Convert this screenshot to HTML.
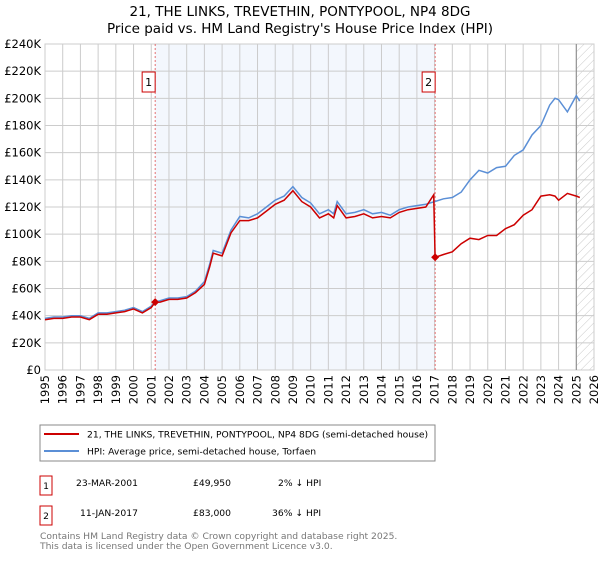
<!DOCTYPE html>
<html><head><meta charset="utf-8"><style>
body{margin:0;background:#fff;font-family:"Liberation Sans","DejaVu Sans",sans-serif;}
svg text{font-family:"DejaVu Sans","Liberation Sans",sans-serif;}
</style></head><body>
<svg id="c" width="600" height="560" xmlns="http://www.w3.org/2000/svg">
<defs><pattern id="hatch" width="6" height="6" patternUnits="userSpaceOnUse" patternTransform="rotate(45)"><line x1="0" y1="0" x2="0" y2="6" stroke="#bbb" stroke-width="0.8"/></pattern></defs>
<text x="300" y="16" text-anchor="middle" font-size="13.5">21, THE LINKS, TREVETHIN, PONTYPOOL, NP4 8DG</text>
<text x="300" y="33" text-anchor="middle" font-size="13.5">Price paid vs. HM Land Registry's House Price Index (HPI)</text>
<g id="plot"></g>
<g id="xlabels" font-size="11.5" text-anchor="end">
<g transform="translate(49,375)"><g transform="rotate(-90)"><text x="0" y="0">1995</text></g></g>
<g transform="translate(66.7,375)"><g transform="rotate(-90)"><text x="0" y="0">1996</text></g></g>
<g transform="translate(84.4,375)"><g transform="rotate(-90)"><text x="0" y="0">1997</text></g></g>
<g transform="translate(102.1,375)"><g transform="rotate(-90)"><text x="0" y="0">1998</text></g></g>
<g transform="translate(119.8,375)"><g transform="rotate(-90)"><text x="0" y="0">1999</text></g></g>
<g transform="translate(137.5,375)"><g transform="rotate(-90)"><text x="0" y="0">2000</text></g></g>
<g transform="translate(155.3,375)"><g transform="rotate(-90)"><text x="0" y="0">2001</text></g></g>
<g transform="translate(173,375)"><g transform="rotate(-90)"><text x="0" y="0">2002</text></g></g>
<g transform="translate(190.7,375)"><g transform="rotate(-90)"><text x="0" y="0">2003</text></g></g>
<g transform="translate(208.4,375)"><g transform="rotate(-90)"><text x="0" y="0">2004</text></g></g>
<g transform="translate(226.1,375)"><g transform="rotate(-90)"><text x="0" y="0">2005</text></g></g>
<g transform="translate(243.8,375)"><g transform="rotate(-90)"><text x="0" y="0">2006</text></g></g>
<g transform="translate(261.5,375)"><g transform="rotate(-90)"><text x="0" y="0">2007</text></g></g>
<g transform="translate(279.3,375)"><g transform="rotate(-90)"><text x="0" y="0">2008</text></g></g>
<g transform="translate(297,375)"><g transform="rotate(-90)"><text x="0" y="0">2009</text></g></g>
<g transform="translate(314.7,375)"><g transform="rotate(-90)"><text x="0" y="0">2010</text></g></g>
<g transform="translate(332.4,375)"><g transform="rotate(-90)"><text x="0" y="0">2011</text></g></g>
<g transform="translate(350.1,375)"><g transform="rotate(-90)"><text x="0" y="0">2012</text></g></g>
<g transform="translate(367.8,375)"><g transform="rotate(-90)"><text x="0" y="0">2013</text></g></g>
<g transform="translate(385.5,375)"><g transform="rotate(-90)"><text x="0" y="0">2014</text></g></g>
<g transform="translate(403.3,375)"><g transform="rotate(-90)"><text x="0" y="0">2015</text></g></g>
<g transform="translate(421,375)"><g transform="rotate(-90)"><text x="0" y="0">2016</text></g></g>
<g transform="translate(438.7,375)"><g transform="rotate(-90)"><text x="0" y="0">2017</text></g></g>
<g transform="translate(456.4,375)"><g transform="rotate(-90)"><text x="0" y="0">2018</text></g></g>
<g transform="translate(474.1,375)"><g transform="rotate(-90)"><text x="0" y="0">2019</text></g></g>
<g transform="translate(491.8,375)"><g transform="rotate(-90)"><text x="0" y="0">2020</text></g></g>
<g transform="translate(509.5,375)"><g transform="rotate(-90)"><text x="0" y="0">2021</text></g></g>
<g transform="translate(527.3,375)"><g transform="rotate(-90)"><text x="0" y="0">2022</text></g></g>
<g transform="translate(545,375)"><g transform="rotate(-90)"><text x="0" y="0">2023</text></g></g>
<g transform="translate(562.7,375)"><g transform="rotate(-90)"><text x="0" y="0">2024</text></g></g>
<g transform="translate(580.4,375)"><g transform="rotate(-90)"><text x="0" y="0">2025</text></g></g>
<g transform="translate(598.1,375)"><g transform="rotate(-90)"><text x="0" y="0">2026</text></g></g>
</g>
<rect x="40" y="425" width="395" height="36" fill="#fff" stroke="#888"/>
<line x1="44" y1="434" x2="79" y2="434" stroke="#cc0000" stroke-width="2"/>
<text x="87" y="437.5" font-size="9.2">21, THE LINKS, TREVETHIN, PONTYPOOL, NP4 8DG (semi-detached house)</text>
<line x1="44" y1="451" x2="79" y2="451" stroke="#5b8fd6" stroke-width="2"/>
<text x="87" y="454.5" font-size="9.2">HPI: Average price, semi-detached house, Torfaen</text>
<g font-size="9.2">
<rect x="40" y="476" width="12" height="19" fill="#fff" stroke="#cc0000"/><text x="46" y="489" text-anchor="middle">1</text>
<text x="76" y="486">23-MAR-2001</text><text x="193" y="486">£49,950</text><text x="278" y="486">2% ↓ HPI</text>
<rect x="40" y="506" width="12" height="19" fill="#fff" stroke="#cc0000"/><text x="46" y="519" text-anchor="middle">2</text>
<text x="80" y="516">11-JAN-2017</text><text x="193" y="516">£83,000</text><text x="272" y="516">36% ↓ HPI</text>
</g>
<text x="40" y="539" font-size="9.2" fill="#777">Contains HM Land Registry data © Crown copyright and database right 2025.</text>
<text x="40" y="549" font-size="9.2" fill="#777">This data is licensed under the Open Government Licence v3.0.</text>
</svg>
<script>
const hpiYears=[1995,1995.5,1996,1996.5,1997,1997.5,1998,1998.5,1999,1999.5,2000,2000.5,2001,2001.2,2001.5,2002,2002.5,2003,2003.5,2004,2004.3,2004.5,2005,2005.5,2006,2006.5,2007,2007.5,2008,2008.5,2009,2009.5,2010,2010.5,2011,2011.3,2011.5,2012,2012.5,2013,2013.5,2014,2014.5,2015,2015.5,2016,2016.5,2017,2017.5,2018,2018.5,2019,2019.5,2020,2020.5,2021,2021.5,2022,2022.5,2023,2023.5,2023.8,2024,2024.5,2025,2025.2];
const hpiValues=[38,39,39,40,40,38,42,42,43,44,46,43,47,50,51,53,53,54,58,65,78,88,86,103,113,112,115,120,125,128,135,127,123,115,118,115,124,115,116,118,115,116,114,118,120,121,122,124,126,127,131,140,147,145,149,150,158,162,173,180,195,200,199,190,202,198,200];
const redYears=[1995,1995.5,1996,1996.5,1997,1997.5,1998,1998.5,1999,1999.5,2000,2000.5,2001,2001.22,2001.5,2002,2002.5,2003,2003.5,2004,2004.3,2004.5,2005,2005.5,2006,2006.5,2007,2007.5,2008,2008.5,2009,2009.5,2010,2010.5,2011,2011.3,2011.5,2012,2012.5,2013,2013.5,2014,2014.5,2015,2015.5,2016,2016.5,2016.95,2017.03,2017.5,2018,2018.5,2019,2019.5,2020,2020.5,2021,2021.5,2022,2022.5,2023,2023.5,2023.8,2024,2024.5,2025,2025.2];
const redValues=[37,38,38,39,39,37,41,41,42,43,45,42,46,49.95,50,52,52,53,57,63,76,86,84,101,110,110,112,117,122,125,132,124,120,112,115,112,121,112,113,115,112,113,112,116,118,119,120,129,83,85,87,93,97,96,99,99,104,107,114,118,128,129,128,125,130,128,127];
const saleYears=[2001.22,2017.03];
const saleValues=[49.95,83];
const saleLabels=["1","2"];
const yTicks=[0,20,40,60,80,100,120,140,160,180,200,220,240];
const yTickLabels=["£0","£20K","£40K","£60K","£80K","£100K","£120K","£140K","£160K","£180K","£200K","£220K","£240K"];
const xTicks=[1995,1996,1997,1998,1999,2000,2001,2002,2003,2004,2005,2006,2007,2008,2009,2010,2011,2012,2013,2014,2015,2016,2017,2018,2019,2020,2021,2022,2023,2024,2025,2026];

const L=45,R=594,T=44,B=370;
const xs=y=>L+(y-1995)/31*(R-L);
const ys=v=>B-v/240*(B-T);
const NS="http://www.w3.org/2000/svg";
const g=document.getElementById('plot');
function mk(tag,attrs,parent){const e=document.createElementNS(NS,tag);for(const k in attrs)e.setAttribute(k,attrs[k]);(parent||g).appendChild(e);return e;}

let r=mk('rect',{x:xs(saleYears[0]),y:T,width:xs(saleYears[1])-xs(saleYears[0]),height:B-T,fill:'#eef3fc',opacity:0.7});


let h=mk('rect',{x:xs(2025.0),y:T,width:R-xs(2025.0),height:B-T,fill:'url(#hatch)'});


yTicks.forEach((v,i)=>{
  mk('line',{x1:L,x2:R,y1:ys(v),y2:ys(v),stroke:'#ccc','stroke-width':1});
  const t=mk('text',{x:L-4,y:ys(v)+4,'text-anchor':'end','font-size':11.5});t.textContent=yTickLabels[i];
  
  
});
xTicks.forEach(y=>{
  mk('line',{x1:xs(y),x2:xs(y),y1:T,y2:B,stroke:'#ccc','stroke-width':1});
});
mk('rect',{x:L,y:T,width:R-L,height:B-T,fill:'none',stroke:'#ccc'});
mk('line',{x1:xs(2025.0),x2:xs(2025.0),y1:T,y2:B,stroke:'#888','stroke-width':1});
saleYears.forEach(y=>mk('line',{x1:xs(y),x2:xs(y),y1:T,y2:B,stroke:'#e05050','stroke-width':0.8,'stroke-dasharray':'2,2'}));
const path=(xa,va)=>xa.map((y,i)=>(i?'L':'M')+xs(y).toFixed(1)+','+ys(va[i]).toFixed(1)).join('');
let hp=mk('path',{d:path(hpiYears,hpiValues),fill:'none',stroke:'#5b8fd6','stroke-width':1.5});


let rp=mk('path',{d:path(redYears,redValues),fill:'none',stroke:'#cc0000','stroke-width':1.5});


saleYears.forEach((y,i)=>{
  const cx=xs(y),cy=ys(saleValues[i]);
  const d=mk('path',{d:`M${cx-4},${cy}L${cx},${cy-4}L${cx+4},${cy}L${cx},${cy+4}Z`,fill:'#cc0000'});
  
  
  mk('rect',{x:cx-13,y:T+28,width:13,height:20,fill:'#fff',stroke:'#cc0000'});
  const t=mk('text',{x:cx-6.5,y:T+42,'text-anchor':'middle','font-size':11});t.textContent=saleLabels[i];
  
  
});
</script>
</body></html>
